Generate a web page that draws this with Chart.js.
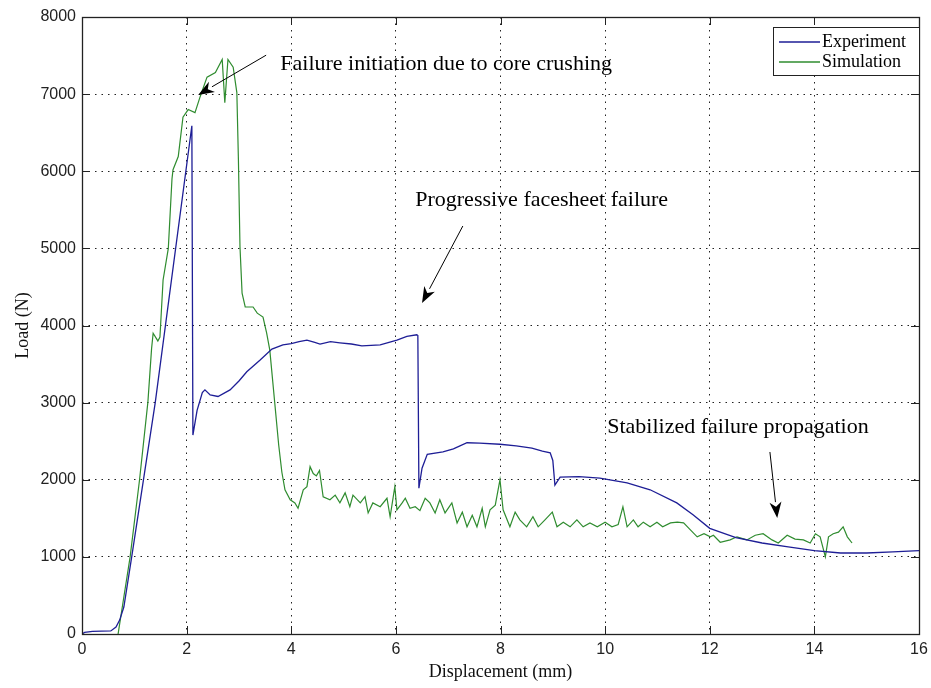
<!DOCTYPE html>
<html>
<head>
<meta charset="utf-8">
<script src="https://cdn.jsdelivr.net/npm/chart.js@4"></script>
<style>
  html, body { margin: 0; padding: 0; background: #fff; }
</style>
</head>
<body>
<canvas id="c" width="931" height="688"></canvas>
<script>
// Load–displacement curves, displacement in mm, load in N
const expX = [0, 0.05, 0.2, 0.55, 0.65, 0.72, 0.8, 0.95, 1.4, 2.1, 2.12, 2.2, 2.3, 2.35, 2.45, 2.6, 2.83, 3.0, 3.15, 3.4, 3.63, 3.84, 4.0, 4.15, 4.3, 4.45, 4.55, 4.75, 4.93, 5.15, 5.35, 5.7, 6.02, 6.21, 6.4, 6.42, 6.44, 6.5, 6.6, 6.9, 7.1, 7.36, 7.6, 7.99, 8.3, 8.6, 8.8, 8.95, 9.0, 9.04, 9.14, 9.5, 9.9, 10.42, 10.86, 11.37, 11.68, 12.0, 12.5, 13.0, 13.5, 14.0, 14.5, 15.0, 15.5, 16.0];
const expY = [0, 20, 35, 40, 90, 180, 350, 1000, 3000, 6590, 2580, 2900, 3130, 3165, 3100, 3080, 3165, 3280, 3400, 3550, 3695, 3750, 3765, 3790, 3810, 3780, 3760, 3790, 3775, 3760, 3735, 3750, 3810, 3860, 3880, 3870, 1890, 2150, 2330, 2360, 2400, 2480, 2475, 2460, 2440, 2410, 2370, 2350, 2250, 1930, 2035, 2040, 2020, 1960, 1870, 1700, 1545, 1370, 1250, 1180, 1130, 1080, 1050, 1050, 1065, 1080];

const simX = [0.69, 0.8, 0.92, 1.1, 1.26, 1.33, 1.36, 1.45, 1.49, 1.55, 1.65, 1.72, 1.74, 1.84, 1.93, 2.03, 2.16, 2.26, 2.39, 2.55, 2.68, 2.73, 2.79, 2.89, 2.96, 2.99, 3.02, 3.06, 3.12, 3.27, 3.35, 3.46, 3.53, 3.59, 3.76, 3.82, 3.88, 3.98, 4.07, 4.13, 4.23, 4.30, 4.36, 4.42, 4.48, 4.54, 4.61, 4.74, 4.84, 4.93, 5.03, 5.12, 5.18, 5.32, 5.41, 5.47, 5.56, 5.70, 5.83, 5.89, 5.98, 6.02, 6.12, 6.18, 6.27, 6.37, 6.46, 6.56, 6.65, 6.75, 6.84, 6.94, 7.07, 7.17, 7.27, 7.36, 7.46, 7.55, 7.65, 7.71, 7.80, 7.90, 7.99, 8.05, 8.18, 8.28, 8.37, 8.50, 8.62, 8.72, 8.85, 8.99, 9.08, 9.20, 9.33, 9.46, 9.58, 9.71, 9.85, 10.0, 10.13, 10.25, 10.34, 10.42, 10.54, 10.63, 10.73, 10.86, 10.99, 11.1, 11.25, 11.38, 11.5, 11.63, 11.76, 11.89, 12.01, 12.07, 12.2, 12.39, 12.52, 12.71, 12.87, 13.02, 13.19, 13.31, 13.48, 13.63, 13.79, 13.92, 14.02, 14.11, 14.21, 14.27, 14.36, 14.46, 14.55, 14.63, 14.72];
const simY = [0, 480, 1000, 2000, 3010, 3700, 3900, 3800, 3850, 4590, 5000, 5900, 6020, 6190, 6700, 6800, 6760, 6970, 7220, 7280, 7450, 6890, 7450, 7350, 7020, 6150, 5020, 4420, 4240, 4240, 4160, 4110, 3900, 3680, 2450, 2100, 1870, 1740, 1700, 1630, 1870, 1910, 2170, 2080, 2050, 2120, 1780, 1740, 1800, 1700, 1830, 1650, 1800, 1700, 1780, 1570, 1700, 1650, 1760, 1520, 1910, 1610, 1700, 1760, 1630, 1650, 1600, 1760, 1700, 1570, 1740, 1570, 1700, 1440, 1580, 1390, 1540, 1390, 1630, 1390, 1610, 1670, 2000, 1610, 1390, 1580, 1480, 1390, 1520, 1390, 1480, 1580, 1390, 1450, 1390, 1480, 1390, 1440, 1390, 1450, 1390, 1420, 1650, 1390, 1480, 1390, 1450, 1390, 1450, 1390, 1440, 1450, 1440, 1350, 1260, 1300, 1260, 1280, 1190, 1220, 1260, 1220, 1280, 1300, 1220, 1180, 1280, 1230, 1220, 1180, 1300, 1260, 1000, 1260, 1300, 1320, 1390, 1260, 1180];

const seriesNames = ['Experiment', 'Simulation'];
const seriesColors = ['#1e1e96', '#2f8c2f'];

const xTicks = [0, 2, 4, 6, 8, 10, 12, 14, 16];
const yTicks = [0, 1000, 2000, 3000, 4000, 5000, 6000, 7000, 8000];

// Callout texts and their arrows, in axis units
const noteTexts = ['Failure initiation due to core crushing', 'Progressive facesheet failure', 'Stabilized failure propagation'];
const noteX = [3.79, 6.37, 10.04];
const noteY = [7390, 5630, 2685];
const arrowFromX = [3.52, 7.28, 13.15];
const arrowFromY = [7505, 5290, 2360];
const arrowToX = [2.22, 6.50, 13.29];
const arrowToY = [6990, 4292, 1504];

const toPoints = (xs, ys) => xs.map((x, i) => ({ x, y: ys[i] }));

const serif = 'Liberation Serif, Times New Roman, serif';
const sans = 'Liberation Sans, Arial, sans-serif';

const framePlugin = {
  id: 'frame',
  afterDatasetsDraw(chart) {
    const { ctx, chartArea: a, scales } = chart;
    ctx.save();
    // inward tick marks on all four sides
    ctx.strokeStyle = '#222';
    ctx.lineWidth = 1;
    ctx.beginPath();
    xTicks.forEach(v => {
      const px = Math.round(scales.x.getPixelForValue(v)) + 0.5;
      ctx.moveTo(px, a.bottom); ctx.lineTo(px, a.bottom - 8);
      ctx.moveTo(px, a.top); ctx.lineTo(px, a.top + 8);
    });
    yTicks.forEach(v => {
      const py = Math.round(scales.y.getPixelForValue(v)) + 0.5;
      ctx.moveTo(a.left, py); ctx.lineTo(a.left + 8, py);
      ctx.moveTo(a.right, py); ctx.lineTo(a.right - 8, py);
    });
    ctx.stroke();
    // axes box
    ctx.lineWidth = 1.3;
    ctx.strokeRect(Math.round(a.left) + 0.5, Math.round(a.top) + 0.5, Math.round(a.right - a.left), Math.round(a.bottom - a.top));

    // callouts
    ctx.fillStyle = '#000';
    ctx.font = '22px ' + serif;
    ctx.textBaseline = 'middle';
    ctx.textAlign = 'left';
    noteTexts.forEach((t, i) => {
      ctx.fillText(t, scales.x.getPixelForValue(noteX[i]), scales.y.getPixelForValue(noteY[i]));
    });
    ctx.strokeStyle = '#000';
    ctx.lineWidth = 1;
    arrowFromX.forEach((_, i) => {
      const x1 = scales.x.getPixelForValue(arrowFromX[i]);
      const y1 = scales.y.getPixelForValue(arrowFromY[i]);
      const x2 = scales.x.getPixelForValue(arrowToX[i]);
      const y2 = scales.y.getPixelForValue(arrowToY[i]);
      const ang = Math.atan2(y2 - y1, x2 - x1);
      const len = 16, half = 6;
      const bx = x2 - len * Math.cos(ang), by = y2 - len * Math.sin(ang);
      ctx.beginPath();
      ctx.moveTo(x1, y1); ctx.lineTo(bx, by);
      ctx.stroke();
      ctx.beginPath();
      ctx.moveTo(x2, y2);
      ctx.lineTo(bx + half * Math.sin(ang), by - half * Math.cos(ang));
      ctx.lineTo(x2 - 0.7 * len * Math.cos(ang), y2 - 0.7 * len * Math.sin(ang));
      ctx.lineTo(bx - half * Math.sin(ang), by + half * Math.cos(ang));
      ctx.closePath();
      ctx.fill();
    });

    // legend box in the upper right corner
    const bw = 146, bh = 48;
    const bx = a.right - bw, by = a.top + 10;
    ctx.fillStyle = '#fff';
    ctx.fillRect(bx, by, bw, bh);
    ctx.strokeStyle = '#222';
    ctx.lineWidth = 1;
    ctx.strokeRect(Math.round(bx) + 0.5, Math.round(by) + 0.5, bw, bh);
    ctx.font = '18px ' + serif;
    chart.data.datasets.forEach((ds, i) => {
      const cy = by + 15 + i * 20;
      ctx.strokeStyle = ds.borderColor;
      ctx.lineWidth = 1.3;
      ctx.beginPath();
      ctx.moveTo(bx + 6, cy); ctx.lineTo(bx + 47, cy);
      ctx.stroke();
      ctx.fillStyle = '#000';
      ctx.fillText(ds.label, bx + 49, cy);
    });
    ctx.restore();
  }
};

new Chart(document.getElementById('c'), {
  type: 'line',
  data: {
    datasets: [
      { label: seriesNames[0], data: toPoints(expX, expY), borderColor: seriesColors[0], borderWidth: 1.3, pointRadius: 0, tension: 0 },
      { label: seriesNames[1], data: toPoints(simX, simY), borderColor: seriesColors[1], borderWidth: 1.2, pointRadius: 0, tension: 0 }
    ]
  },
  options: {
    responsive: false,
    animation: false,
    layout: { padding: { top: 17, right: 12, left: 0, bottom: 0 } },
    plugins: { legend: { display: false }, tooltip: { enabled: false } },
    scales: {
      x: {
        type: 'linear', min: 0, max: 16,
        afterBuildTicks: s => { s.ticks = xTicks.map(v => ({ value: v })); },
        afterFit: s => { s.height = 54; s.paddingLeft = 0; s.paddingRight = 0; },
        ticks: { color: '#222', font: { family: sans, size: 16 }, padding: 6, maxRotation: 0, autoSkip: false, callback: v => String(v) },
        grid: { color: '#222', lineWidth: 1, drawTicks: false },
        border: { display: false, dash: [1.5, 5] },
        title: { display: true, text: 'Displacement (mm)', color: '#111', font: { family: serif, size: 18 }, padding: { top: 0, bottom: 5 } }
      },
      y: {
        min: 0, max: 8000,
        afterBuildTicks: s => { s.ticks = yTicks.map(v => ({ value: v })); },
        afterFit: s => { s.width = 82; s.paddingTop = 0; s.paddingBottom = 0; },
        ticks: { color: '#222', font: { family: sans, size: 16 }, padding: 6, autoSkip: false, callback: v => String(v) },
        grid: { color: '#222', lineWidth: 1, drawTicks: false },
        border: { display: false, dash: [1.5, 5] },
        title: { display: true, text: 'Load (N)', color: '#111', font: { family: serif, size: 18 }, padding: { top: 12, bottom: 0 } }
      }
    }
  },
  plugins: [framePlugin]
});
</script>
</body>
</html>
